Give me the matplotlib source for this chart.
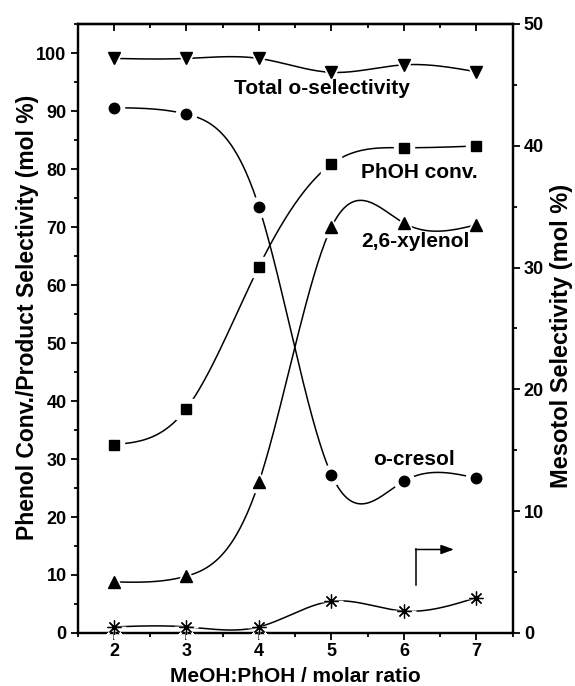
import numpy as np
import matplotlib
matplotlib.use("Agg")
import matplotlib.pyplot as plt
from matplotlib.ticker import MultipleLocator

plt.rcParams['font.family'] = ['Liberation Sans', 'DejaVu Sans']
plt.rcParams['font.weight'] = 'bold'

ratio = [2, 3, 4, 5, 6, 7]
total_o_sel = [99.1, 99.1, 99.1, 96.7, 98.0, 96.8]
o_cresol = [90.6, 89.5, 73.5, 27.3, 26.2, 26.7]
phoh_conv = [32.5, 38.7, 63.2, 80.9, 83.7, 84.0]
xylenol = [8.8, 9.8, 26.0, 70.0, 70.7, 70.4]
mesitol = [0.5, 0.5, 0.5, 2.6, 1.8, 2.9]


def natural_spline(x, y, n=300):
    x = np.asarray(x, float)
    y = np.asarray(y, float)
    m = len(x)
    h = np.diff(x)
    A = np.zeros((m, m))
    b = np.zeros(m)
    A[0, 0] = 1
    A[-1, -1] = 1
    for i in range(1, m - 1):
        A[i, i - 1] = h[i - 1]
        A[i, i] = 2 * (h[i - 1] + h[i])
        A[i, i + 1] = h[i]
        b[i] = 3 * ((y[i + 1] - y[i]) / h[i] - (y[i] - y[i - 1]) / h[i - 1])
    c = np.linalg.solve(A, b)
    xs = np.linspace(x[0], x[-1], n)
    ys = np.empty_like(xs)
    for k, xv in enumerate(xs):
        i = min(np.searchsorted(x, xv, side='right') - 1, m - 2)
        dx = xv - x[i]
        bb = (y[i + 1] - y[i]) / h[i] - h[i] * (2 * c[i] + c[i + 1]) / 3
        dd = (c[i + 1] - c[i]) / (3 * h[i])
        ys[k] = y[i] + bb * dx + c[i] * dx ** 2 + dd * dx ** 3
    return xs, ys


fig = plt.figure(figsize=(5.75, 6.86), dpi=100)
ax = fig.add_axes([0.1351, 0.0773, 0.7565, 0.8878])
ax2 = ax.twinx()


def draw(axis, y, marker, ms, mew=1.0):
    xs, ys = natural_spline(ratio, y)
    axis.plot(xs, ys, color='black', lw=1.1, zorder=2, clip_on=False)
    axis.plot(ratio, y, linestyle='none', marker=marker, ms=ms + 7,
              color='white', markeredgecolor='white', zorder=3, clip_on=False)
    axis.plot(ratio, y, linestyle='none', marker=marker, ms=ms,
              color='black', markeredgecolor='black', markeredgewidth=mew,
              zorder=4, clip_on=False)


draw(ax, total_o_sel, 'v', 8)
draw(ax, o_cresol, 'o', 7.5)
draw(ax, phoh_conv, 's', 7)
draw(ax, xylenol, '^', 8)
draw(ax2, mesitol, (8, 2, 0), 10, mew=0.9)

ax.set_xlim(1.5, 7.5)
ax.set_ylim(0, 105.05)
ax2.set_ylim(0, 50)

ax.xaxis.set_major_locator(MultipleLocator(1))
ax.xaxis.set_minor_locator(MultipleLocator(0.5))
ax.yaxis.set_major_locator(MultipleLocator(10))
ax.yaxis.set_minor_locator(MultipleLocator(5))
ax2.yaxis.set_major_locator(MultipleLocator(10))
ax2.yaxis.set_minor_locator(MultipleLocator(5))

for a in (ax, ax2):
    a.tick_params(which='both', direction='out', width=1.3, labelsize=13, pad=3)
    a.tick_params(which='major', length=5)
    a.tick_params(which='minor', length=3.2)
    for s in a.spines.values():
        s.set_linewidth(1.6)
ax.tick_params(axis='x', pad=2)

top = ax.secondary_xaxis('top')
top.xaxis.set_major_locator(MultipleLocator(1))
top.xaxis.set_minor_locator(MultipleLocator(0.5))
top.tick_params(which='both', direction='in', width=1.3, labeltop=False)
top.tick_params(which='major', length=5)
top.tick_params(which='minor', length=3.2)
top.spines['top'].set_linewidth(1.6)

for a in (ax, ax2):
    for lab in a.get_xticklabels() + a.get_yticklabels():
        lab.set_fontweight('bold')

ax.set_xlabel('MeOH:PhOH / molar ratio', fontsize=15, fontweight='bold', labelpad=5)
ax.set_ylabel('Phenol Conv./Product Selectivity (mol %)', fontsize=16.5,
              fontweight='bold')
ax.yaxis.set_label_coords(-0.09, 0.519)
ax2.set_ylabel('Mesotol Selectivity (mol %)', fontsize=17, fontweight='bold')
ax2.yaxis.set_label_coords(1.085, 0.488)

ax.text(4.87, 93.0, 'Total o-selectivity', fontsize=15, fontweight='bold',
        ha='center', va='baseline')
ax.text(7.01, 78.4, 'PhOH conv.', fontsize=15, fontweight='bold',
        ha='right', va='baseline')
ax.text(5.41, 66.6, '2,6-xylenol', fontsize=15, fontweight='bold',
        ha='left', va='baseline')
ax.text(5.57, 28.9, 'o-cresol', fontsize=15, fontweight='bold',
        ha='left', va='baseline')

ax.plot([6.16, 6.16], [8.3, 14.4], color='black', lw=1.1)
ax.annotate('', xy=(6.69, 14.4), xytext=(6.16, 14.4),
            arrowprops=dict(arrowstyle='-|>,head_length=0.55,head_width=0.2',
                            color='black', lw=1.1, mutation_scale=14,
                            shrinkA=0, shrinkB=0))

fig.savefig('out.png', dpi=100)
